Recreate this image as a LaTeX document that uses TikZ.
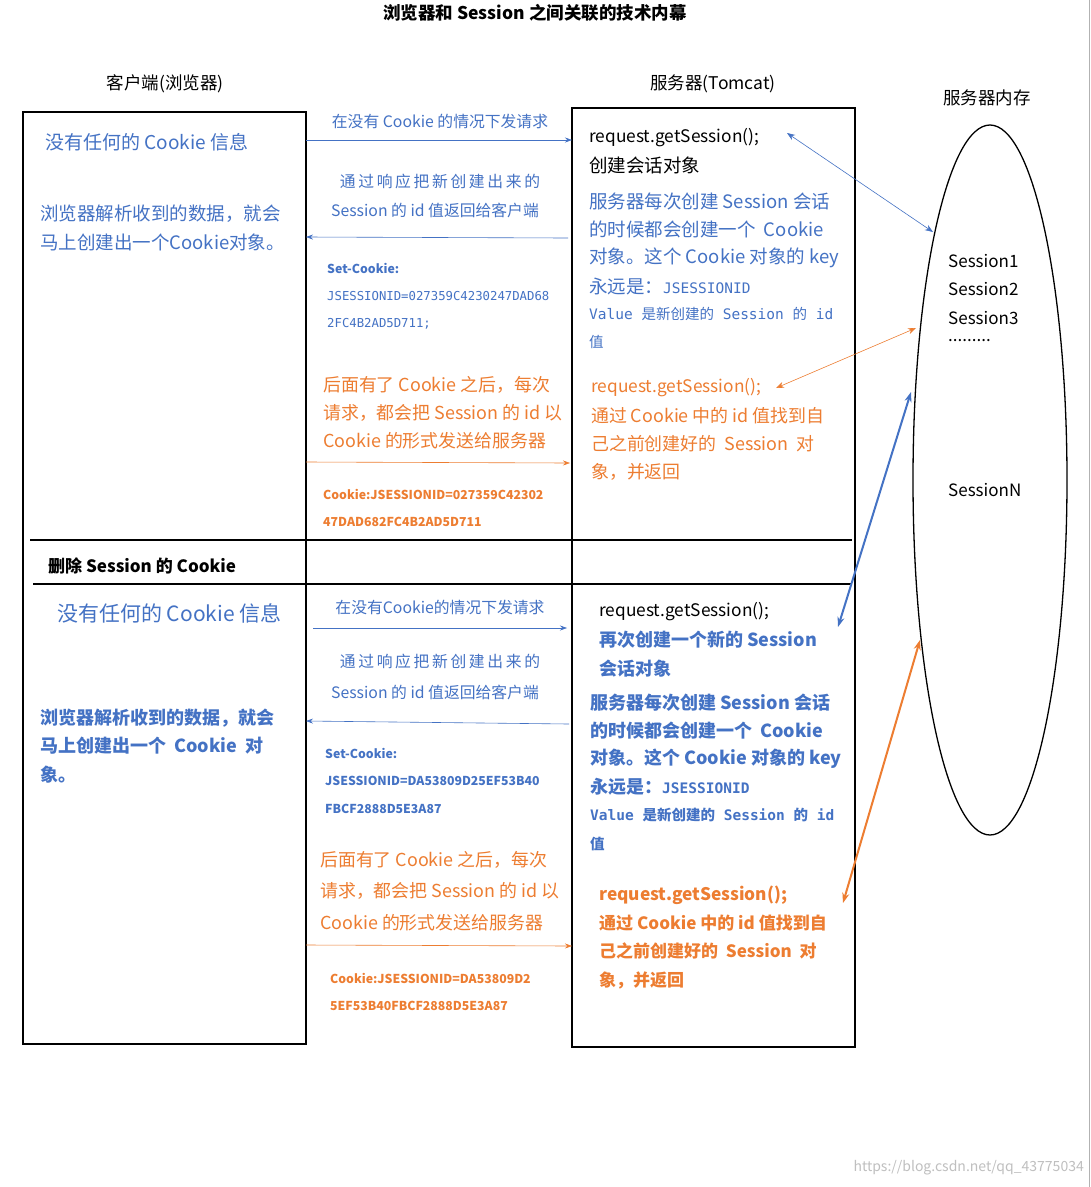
\documentclass[tikz,border=0pt]{standalone}
\usepackage{fontspec}
\setmainfont{Noto Sans CJK SC}
\newfontfamily\monof{DejaVu Sans Mono}
\usetikzlibrary{arrows.meta}
\definecolor{bl}{HTML}{4472C4}
\definecolor{og}{HTML}{ED7D31}
\tikzset{
 x=1pt,y=-1pt,
 tx/.style={anchor=west,inner sep=0pt,font=\fontsize{18.5}{20}\selectfont},
 ot/.style={anchor=west,inner sep=0pt,font=\fontsize{17.9}{20}\selectfont},
 bt/.style={anchor=west,inner sep=0pt,font=\fontsize{18}{20}\selectfont\bfseries},
 mid/.style={anchor=center,inner sep=0pt,font=\fontsize{15.8}{18}\selectfont},
 sm/.style={anchor=west,inner sep=0pt,font=\fontsize{12.3}{14}\selectfont\bfseries},
 mono/.style={anchor=west,inner sep=0pt,font=\fontsize{12.3}{14}\selectfont\monof},
 box/.style={draw,line width=1.3pt},
 thin/.style={-{Stealth[length=7pt,width=5pt]},line width=0.6pt},
 dbl/.style={{Stealth[length=8pt,width=6pt]}-{Stealth[length=8pt,width=6pt]},line width=0.6pt},
 dblt/.style={{Stealth[length=10pt,width=7pt]}-{Stealth[length=10pt,width=7pt]},line width=2pt},
}
\begin{document}
\begin{tikzpicture}
\useasboundingbox[fill=white] (0,0) rectangle (1091,1187);
\node[inner sep=0,font=\fontsize{17.5}{20}\selectfont\bfseries] (title) at (535,13) {浏览器和 Session 之间关联的技术内幕};
\node[inner sep=0,font=\fontsize{17.5}{20}\selectfont] (hc) at (165,84) {客户端(浏览器)};
\node[inner sep=0,font=\fontsize{17.5}{20}\selectfont] (hs) at (713,84) {服务器(Tomcat)};
\node[inner sep=0,font=\fontsize{17.5}{20}\selectfont] (hm) at (987,98) {服务器内存};
\draw[box] (23,112) rectangle (306,1044);
\draw[box] (572,108) rectangle (855,1047);
\draw[line width=2.2pt] (30,540) -- (852,540);
\draw[line width=2.2pt] (33,584) -- (852,584);
\node[anchor=west,inner sep=0,font=\fontsize{17}{18}\selectfont\bfseries] (del) at (48,566) {删除 Session 的 Cookie};
\draw[line width=1.3pt] (990,480) ellipse [x radius=77,y radius=355];
\node[tx,font=\fontsize{17}{20}\selectfont] (s1) at (948,261) {Session1};
\node[tx,font=\fontsize{17}{20}\selectfont] (s2) at (948,289) {Session2};
\node[tx,font=\fontsize{17}{20}\selectfont] (s3) at (948,318) {Session3};
\node[tx,font=\fontsize{17}{20}\selectfont] (s4) at (948,341) {.........};
\node[tx,font=\fontsize{17}{20}\selectfont] (sn) at (948,490) {SessionN};
% top client
\node[tx,bl,font=\fontsize{19}{20}\selectfont] (c1) at (45,142) {没有任何的 Cookie 信息};
\node[tx,bl] (c2) at (40,214) {浏览器解析收到的数据，就会};
\node[tx,bl] (c3) at (40,242) {马上创建出一个Cookie对象。};
% top middle
\node[mid,bl] (m1) at (440,121) {在没有 Cookie 的情况下发请求};
\coordinate (a1s) at (306,140); \coordinate (a1e) at (572,140);
\draw[thin,bl] (a1s) -- (a1e);
\node[mid,bl] (m2) at (440,181) {通\,过\,响\,应\,把\,新\,创\,建\,出\,来\,的};
\node[mid,bl] (m3) at (435,210) {Session 的 id 值返回给客户端};
\coordinate (a2s) at (568,238); \coordinate (a2e) at (306,237);
\draw[thin,bl] (a2s) -- (a2e);
\node[sm,bl] (k1) at (327,268) {Set-Cookie:};
\node[mono,bl] (k2) at (327,296) {JSESSIONID=027359C4230247DAD68};
\node[mono,bl] (k3) at (327,324) {2FC4B2AD5D711;};
\node[ot,og] (o1) at (323,385) {后面有了 Cookie 之后，每次};
\node[ot,og] (o2) at (323,413) {请求，都会把 Session 的 id 以};
\node[ot,og] (o3) at (323,441) {Cookie 的形式发送给服务器};
\coordinate (a3s) at (306,462); \coordinate (a3e) at (570,463);
\draw[thin,og] (a3s) -- (a3e);
\node[sm,og] (q1) at (323,494) {Cookie:JSESSIONID=027359C42302};
\node[sm,og] (q2) at (323,522) {47DAD682FC4B2AD5D711};
% top server
\node[tx,font=\fontsize{17.3}{20}\selectfont] (r1) at (589,138) {request.getSession();};
\node[tx] (r2) at (589,165) {创建会话对象};
\node[tx,bl] (r3) at (589,201) {服务器每次创建 Session 会话};
\node[tx,bl] (r4) at (589,229) {的时候都会创建一个\ \ Cookie};
\node[tx,bl] (r5) at (589,258) {对象。这个 Cookie 对象的 key};
\node[tx,bl] (r6) at (589,286) {永远是：\monof\fontsize{14.5}{16}\selectfont JSESSIONID};
\node[tx,bl,font=\fontsize{14.5}{16}\selectfont\monof] (r7) at (589,314) {Value {\rmfamily 是新创建的} Session {\rmfamily 的} id};
\node[tx,bl,font=\fontsize{14.5}{16}\selectfont] (r8) at (589,342) {值};
\node[tx,og,font=\fontsize{17.3}{20}\selectfont] (g1) at (591,388) {request.getSession();};
\node[ot,og] (g2) at (591,416) {通过 Cookie 中的 id 值找到自};
\node[ot,og] (g3) at (591,444) {己之前创建好的\ \ Session\ \ 对};
\node[ot,og] (g4) at (591,472) {象，并返回};
% bottom client
\node[tx,bl,font=\fontsize{21}{22}\selectfont] (d1) at (57,613) {没有任何的 Cookie 信息};
\node[bt,bl] (d2) at (40,718) {浏览器解析收到的数据，就会};
\node[bt,bl] (d3) at (40,746) {马上创建出一个\ \ Cookie\ \ 对};
\node[bt,bl] (d4) at (40,775) {象。};
% bottom middle
\node[mid,bl] (n1) at (440,607) {在没有Cookie的情况下发请求};
\coordinate (b1s) at (313,628); \coordinate (b1e) at (567,628);
\draw[thin,bl] (b1s) -- (b1e);
\node[mid,bl] (n2) at (440,661) {通\,过\,响\,应\,把\,新\,创\,建\,出\,来\,的};
\node[mid,bl] (n3) at (435,692) {Session 的 id 值返回给客户端};
\coordinate (b2s) at (569,724); \coordinate (b2e) at (306,721);
\draw[thin,bl] (b2s) -- (b2e);
\node[sm,bl] (e1) at (325,753) {Set-Cookie:};
\node[sm,bl] (e2) at (325,781) {JSESSIONID=DA53809D25EF53B40};
\node[sm,bl] (e3) at (325,809) {FBCF2888D5E3A87};
\node[ot,og] (p1) at (320,860) {后面有了 Cookie 之后，每次};
\node[ot,og] (p2) at (320,891) {请求，都会把 Session 的 id 以};
\node[ot,og] (p3) at (320,923) {Cookie 的形式发送给服务器};
\coordinate (b3s) at (306,945); \coordinate (b3e) at (572,946);
\draw[thin,og] (b3s) -- (b3e);
\node[sm,og] (f1) at (330,978) {Cookie:JSESSIONID=DA53809D2};
\node[sm,og] (f2) at (330,1006) {5EF53B40FBCF2888D5E3A87};
% bottom server
\node[tx,font=\fontsize{17.3}{20}\selectfont] (u1) at (599,612) {request.getSession();};
\node[bt,bl] (u2) at (599,640) {再次创建一个新的 Session};
\node[bt,bl] (u3) at (599,669) {会话对象};
\node[bt,bl] (u4) at (590,703) {服务器每次创建 Session 会话};
\node[bt,bl] (u5) at (590,731) {的时候都会创建一个\ \ Cookie};
\node[bt,bl] (u6) at (590,759) {对象。这个 Cookie 对象的 key};
\node[bt,bl] (u7) at (590,787) {永远是：{\monof\fontsize{14.5}{16}\selectfont\bfseries JSESSIONID}};
\node[tx,bl,font=\fontsize{14.5}{16}\selectfont\bfseries\monof] (u8) at (590,815) {Value {\rmfamily 是新创建的} Session {\rmfamily 的} id};
\node[tx,bl,font=\fontsize{14.5}{16}\selectfont\bfseries] (u9) at (590,844) {值};
\node[bt,og,font=\fontsize{17.3}{20}\selectfont\bfseries] (h1) at (599,895) {request.getSession();};
\node[tx,og,font=\fontsize{17}{20}\selectfont\bfseries] (h2) at (599,923) {通过 Cookie 中的 id 值找到自};
\node[tx,og,font=\fontsize{17}{20}\selectfont\bfseries] (h3) at (599,951) {己之前创建好的\ \ Session\ \ 对};
\node[tx,og,font=\fontsize{17}{20}\selectfont\bfseries] (h4) at (599,980) {象，并返回};
% memory arrows
\coordinate (x1) at (787,133); \coordinate (y1) at (933,232);
\draw[dbl,bl] (x1) -- (y1);
\coordinate (x2) at (776,388); \coordinate (y2) at (916,328);
\draw[dbl,og] (x2) -- (y2);
\coordinate (x3) at (838,627); \coordinate (y3) at (911,392);
\draw[dblt,bl] (x3) -- (y3);
\coordinate (x4) at (843,903); \coordinate (y4) at (920,640);
\draw[dblt,og] (x4) -- (y4);
\node[anchor=east,inner sep=0,text=black!25,font=\fontsize{14}{16}\selectfont] (wm) at (1084,1168) {https://blog.csdn.net/qq\_43775034};
\draw[black!30,line width=1pt] (1089,0) -- (1089,1187);
\end{tikzpicture}
\end{document}
